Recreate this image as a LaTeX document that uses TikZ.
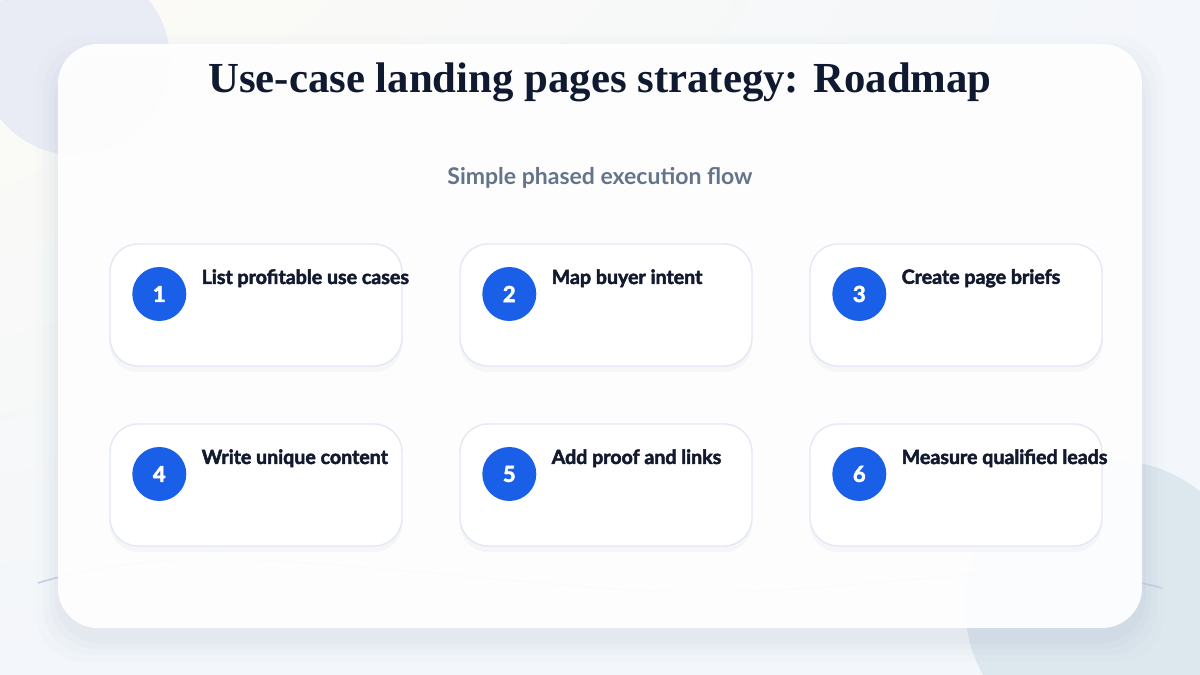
\documentclass[tikz,border=0pt]{standalone}
\usepackage{fontspec}
\setmainfont{Liberation Serif}
\newfontfamily\labelfont{Lato}
\newfontfamily\heavyfont[BoldFeatures={FakeBold=2.5}]{Lato}
\usetikzlibrary{positioning, shadows, shadings}

\definecolor{navy}{HTML}{0F1A30}
\definecolor{inkdark}{HTML}{131A30}
\definecolor{stepblue}{HTML}{1A5FE8}
\definecolor{subgray}{HTML}{64748B}
\definecolor{cardline}{HTML}{E2E8F4}
\definecolor{bgcream}{HTML}{FCFBF6}
\definecolor{bgblue}{HTML}{F3F6FA}
\definecolor{blobleft}{HTML}{E9ECF5}
\definecolor{blobright}{HTML}{DCE7EE}
\definecolor{waveline}{HTML}{C5D0EA}
\definecolor{shadowc}{HTML}{9AA4C0}

\begin{document}
\begin{tikzpicture}[x=0.5pt, y=0.5pt, node distance=90pt and 175pt, on grid,
    maincard/.style={fill=white, fill opacity=0.93, rounded corners=20pt,
        minimum width=542pt, minimum height=292pt, inner sep=0pt},
    stepcard/.style={draw=cardline, line width=0.7pt, fill=white, rounded corners=14pt,
        minimum width=146pt, minimum height=61pt, inner sep=0pt,
        drop shadow={shadow xshift=0pt, shadow yshift=-3pt, opacity=0.07, fill=shadowc}},
    stepnum/.style={circle, fill=stepblue, text=white, minimum size=27pt, inner sep=0pt,
        font=\heavyfont\bfseries\fontsize{11}{11}\selectfont},
    steptext/.style={anchor=west, inner sep=0pt, text=inkdark,
        font=\heavyfont\bfseries\fontsize{9.8}{11}\selectfont}]

    \useasboundingbox (0,0) rectangle (1200,675);
    \shade[upper left=bgcream, upper right=bgblue, lower left=bgblue, lower right=bgblue]
        (0,0) rectangle (1200,675);
    \fill[blobleft] (75,615) circle (95);
    \fill[blobright] (1110,70) circle (145);
    \draw[waveline, line width=0.8pt] (38,92) .. controls (180,135) and (320,110) .. (600,87)
        .. controls (850,67) and (1000,130) .. (1162,87);

    \foreach \s/\o in {22/0.025, 15/0.035, 9/0.045, 4/0.05}
        \fill[shadowc, opacity=\o, rounded corners=24pt]
            (58-\s,47-\s-12) rectangle (1142+\s,631+\s-14);
    \node[maincard] (panel) at (600,339) {};

    \node[text=navy, font=\bfseries\fontsize{21.4}{25}\selectfont] (title) at (600,593)
        {Use-case landing pages strategy: Roadmap};
    \node[text=subgray, font=\labelfont\bfseries\fontsize{11.5}{13}\selectfont] (subtitle)
        at (600,497) {Simple phased execution flow};

    \node[stepcard] (s1) at (256,370) {};
    \node[stepcard] (s2) [right=of s1] {};
    \node[stepcard] (s3) [right=of s2] {};
    \node[stepcard] (s4) [below=of s1] {};
    \node[stepcard] (s5) [right=of s4] {};
    \node[stepcard] (s6) [right=of s5] {};

    \node[stepnum] (n1) at ([shift={(50,11)}]s1.west) {1};
    \node[stepnum] (n2) at ([shift={(50,11)}]s2.west) {2};
    \node[stepnum] (n3) at ([shift={(50,11)}]s3.west) {3};
    \node[stepnum] (n4) at ([shift={(50,11)}]s4.west) {4};
    \node[stepnum] (n5) at ([shift={(50,11)}]s5.west) {5};
    \node[stepnum] (n6) at ([shift={(50,11)}]s6.west) {6};

    \node[steptext] (t1) at ([shift={(92,-35)}]s1.north west) {List profitable use cases};
    \node[steptext] (t2) at ([shift={(92,-35)}]s2.north west) {Map buyer intent};
    \node[steptext] (t3) at ([shift={(92,-35)}]s3.north west) {Create page briefs};
    \node[steptext] (t4) at ([shift={(92,-35)}]s4.north west) {Write unique content};
    \node[steptext] (t5) at ([shift={(92,-35)}]s5.north west) {Add proof and links};
    \node[steptext] (t6) at ([shift={(92,-35)}]s6.north west) {Measure qualified leads};
\end{tikzpicture}
\end{document}
